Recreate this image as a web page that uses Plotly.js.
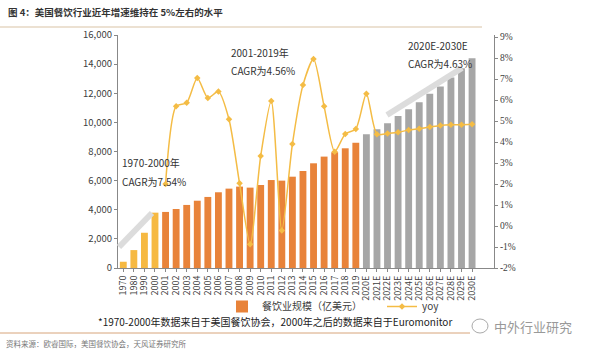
<!DOCTYPE html>
<html><head><meta charset="utf-8">
<script src="https://cdn.plot.ly/plotly-3.0.1.min.js"></script>
<style>html,body{margin:0;padding:0;background:#fff}#chart{width:600px;height:353px}</style>
</head><body><div id="chart"></div>
<script>
const categories = ["1970","1980","1990","2000","2001","2002","2003","2004","2005","2006","2007","2008","2009","2010","2011","2012","2013","2014","2015","2016","2017","2018","2019","2020E","2021E","2022E","2023E","2024E","2025E","2026E","2027E","2028E","2029E","2030E"];
const marketSize = [430,1230,2420,3800,3850,4050,4330,4620,4880,5200,5450,5590,5520,5700,6040,6000,6270,6660,7190,7650,7950,8220,8600,9190,9530,9940,10440,10900,11390,11960,12460,13080,13720,14400];
const yoyCats = categories.slice(4);
const yoy = [2.0,5.7,5.87,7.05,6.1,6.4,5.08,2.03,-0.87,3.33,5.95,-0.22,3.9,6.71,7.95,5.7,3.54,4.38,4.62,6.3,4.37,4.41,4.46,4.57,4.63,4.71,4.79,4.82,4.82,4.84];
const leftTicks = [0,2000,4000,6000,8000,10000,12000,14000,16000];
const leftTickText = ["0","2,000","4,000","6,000","8,000","10,000","12,000","14,000","16,000"];
const rightTicks = [-2,-1,0,1,2,3,4,5,6,7,8,9];
const rightTickText = rightTicks.map(v => v + "%");

const barColors = categories.map(c => c.endsWith("E") ? "#A6A6A6" : (parseInt(c) <= 2000 ? "#F6B942" : "#E8833A"));
const font = "Noto Sans CJK SC, Noto Sans, sans-serif";
const px = v => (v - 118) / 376;
const py = v => (268 - v) / 233;

const traces = [
  {type:"bar", x:categories, y:marketSize, name:"餐饮业规模（亿美元）", marker:{color:barColors}, yaxis:"y", showlegend:false},
  {type:"bar", x:[null], y:[null], name:"餐饮业规模（亿美元）", marker:{color:"#E8833A"}, yaxis:"y", legend:"legend"},
  {type:"scatter", mode:"lines+markers", x:yoyCats, y:yoy, name:"yoy", yaxis:"y2", legend:"legend2",
   line:{color:"#F4BC45", width:1.5, shape:"spline", smoothing:0.7},
   marker:{color:"#F4BC45", size:5, symbol:"diamond"}}
];

const layout = {
  width:600, height:353,
  margin:{l:118, r:106, t:35, b:85},
  paper_bgcolor:"#fff", plot_bgcolor:"#fff",
  font:{family:font, size:9, color:"#404040"},
  bargap:0.35,
  showlegend:true,
  legend:{orientation:"h", x:px(222), y:py(292), xanchor:"left", yanchor:"top", font:{size:10,color:"#404040"}, bgcolor:"rgba(0,0,0,0)", itemwidth:30},
  legend2:{orientation:"h", x:px(382), y:py(292), xanchor:"left", yanchor:"top", font:{size:10,color:"#404040"}, bgcolor:"rgba(0,0,0,0)", itemwidth:30},
  xaxis:{type:"category", tickmode:"array", tickvals:categories, ticktext:categories, tickangle:-90, tickfont:{size:9}, showline:true, linecolor:"#888", ticks:"outside", ticklen:3, tickcolor:"#888", showgrid:false, automargin:false},
  yaxis:{range:[0,16000], tickvals:leftTicks, ticktext:leftTickText, showgrid:false, zeroline:false, showline:true, linecolor:"#888", ticks:"outside", ticklen:3, tickcolor:"#888", tickfont:{size:9.5}, automargin:false},
  yaxis2:{overlaying:"y", side:"right", range:[-2,9.095], tickvals:rightTicks, ticktext:rightTickText, showgrid:false, zeroline:false, showline:true, linecolor:"#888", ticks:"outside", ticklen:3, tickcolor:"#888", tickfont:{size:9.5, family:"Liberation Serif, serif"}, automargin:false},
  annotations:[
    {xref:"paper", yref:"paper", x:px(6), y:py(12), xanchor:"left", yanchor:"middle", text:"<b>图 4：美国餐饮行业近年增速维持在 5%左右的水平</b>", showarrow:false, font:{size:9.5, color:"#333"}},
    {xref:"paper", yref:"paper", x:px(120), y:py(162), xanchor:"left", yanchor:"middle", text:"1970-2000年", showarrow:false, font:{size:10, color:"#333"}},
    {xref:"paper", yref:"paper", x:px(120), y:py(181), xanchor:"left", yanchor:"middle", text:"CAGR为7.54%", showarrow:false, font:{size:10, color:"#333"}},
    {xref:"paper", yref:"paper", x:px(229), y:py(52), xanchor:"left", yanchor:"middle", text:"2001-2019年", showarrow:false, font:{size:10, color:"#333"}},
    {xref:"paper", yref:"paper", x:px(229), y:py(70), xanchor:"left", yanchor:"middle", text:"CAGR为4.56%", showarrow:false, font:{size:10, color:"#333"}},
    {xref:"paper", yref:"paper", x:px(406), y:py(46), xanchor:"left", yanchor:"middle", text:"2020E-2030E", showarrow:false, font:{size:10, color:"#333"}},
    {xref:"paper", yref:"paper", x:px(406), y:py(63), xanchor:"left", yanchor:"middle", text:"CAGR为4.63%", showarrow:false, font:{size:10, color:"#333"}},
    {xref:"paper", yref:"paper", x:px(96), y:py(321), xanchor:"left", yanchor:"middle", text:"*1970-2000年数据来自于美国餐饮协会，2000年之后的数据来自于Euromonitor", showarrow:false, font:{size:10, color:"#222"}},
    {xref:"paper", yref:"paper", x:px(4), y:py(343), xanchor:"left", yanchor:"middle", text:"资料来源：欧睿国际，美国餐饮协会，天风证券研究所", showarrow:false, font:{size:7.5, color:"#777"}},
    {xref:"paper", yref:"paper", x:px(492), y:py(326), xanchor:"left", yanchor:"middle", text:"中外行业研究", showarrow:false, font:{size:13, color:"#999"}}
  ],
  shapes:[
    {type:"line", xref:"paper", yref:"paper", x0:px(0), x1:px(482), y0:py(27), y1:py(27), line:{color:"#D9C3A5", width:1}},
    {type:"line", xref:"paper", yref:"paper", x0:px(0), x1:px(470), y0:py(333), y1:py(333), line:{color:"#D7A47A", width:1}},
    {type:"line", xref:"paper", yref:"paper", x0:px(119), x1:px(152), y0:py(247), y1:py(213), line:{color:"#DCDCDC", width:6}},
    {type:"line", xref:"paper", yref:"paper", x0:px(387), x1:px(462), y0:py(115), y1:py(68), line:{color:"#DCDCDC", width:6}},
    {type:"circle", xref:"paper", yref:"paper", x0:px(472), x1:px(488), y0:py(333), y1:py(319), line:{color:"#AAA", width:1}, fillcolor:"#fff"}
  ]
};
Plotly.newPlot("chart", traces, layout, {displayModeBar:false, staticPlot:true});
</script></body></html>
